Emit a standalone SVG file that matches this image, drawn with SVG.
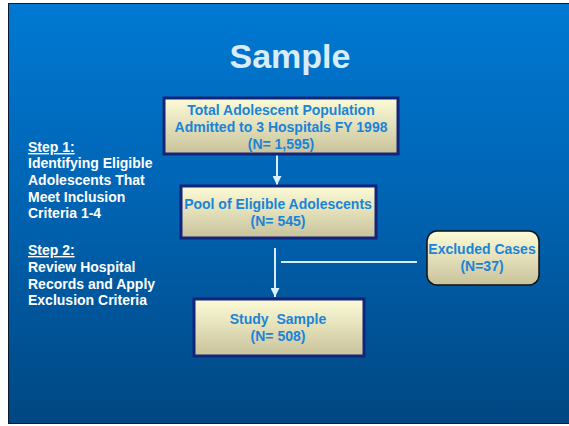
<svg xmlns="http://www.w3.org/2000/svg" width="569" height="426" viewBox="0 0 569 426">
<defs>
<linearGradient id="bg" x1="0" y1="0" x2="0" y2="1">
<stop offset="0" stop-color="#0079d3"/>
<stop offset="0.5" stop-color="#0062b0"/>
<stop offset="1" stop-color="#004782"/>
</linearGradient>
<linearGradient id="cream" x1="0" y1="0" x2="0" y2="1">
<stop offset="0" stop-color="#fdfcd8"/>
<stop offset="1" stop-color="#c8c29a"/>
</linearGradient>
<marker id="ah" viewBox="0 0 10 10" refX="10" refY="5" markerWidth="4.5" markerHeight="4.5" orient="auto" markerUnits="strokeWidth">
<path d="M0,0 L10,5 L0,10 Z" fill="#dcefff"/>
</marker>
<style>
.box{fill:url(#cream);stroke:#12257a;stroke-width:3}
.rbox{fill:url(#cream);stroke:#111;stroke-width:1.5}
.bt{font-family:"Liberation Sans",Arial,sans-serif;font-weight:bold;font-size:14px;fill:#1a84d8;text-anchor:middle}
.lt{font-family:"Liberation Sans",Arial,sans-serif;font-weight:bold;font-size:14px;fill:#ffffff}
.conn{stroke:#d8ecfb;stroke-width:2;fill:none}
</style>
</defs>
<rect x="0" y="0" width="569" height="426" fill="#ffffff"/>
<rect x="8.5" y="3.5" width="562" height="420" fill="url(#bg)" stroke="#0a1a30" stroke-width="1"/>
<text x="290" y="68" font-family="Liberation Sans,Arial,sans-serif" font-weight="bold" font-size="34" fill="#d8ecfa" text-anchor="middle">Sample</text>
<g id="steps">
<text class="lt" x="28" y="152" text-decoration="underline">Step 1:</text>
<text class="lt" x="28" y="168">Identifying Eligible</text>
<text class="lt" x="28" y="185">Adolescents That</text>
<text class="lt" x="28" y="202">Meet Inclusion</text>
<text class="lt" x="28" y="218">Criteria 1-4</text>
<text class="lt" x="28" y="255" text-decoration="underline">Step 2:</text>
<text class="lt" x="28" y="272">Review Hospital</text>
<text class="lt" x="28" y="289">Records and Apply</text>
<text class="lt" x="28" y="305">Exclusion Criteria</text>
</g>
<g id="connectors">
<line class="conn" x1="277" y1="155" x2="277" y2="185" marker-end="url(#ah)"/>
<line class="conn" x1="275" y1="248" x2="275" y2="297" marker-end="url(#ah)"/>
<line class="conn" x1="281" y1="262" x2="417" y2="262"/>
</g>
<g id="total">
<rect class="box" x="164" y="98" width="234" height="56"/>
<text class="bt" x="281" y="115">Total Adolescent Population</text>
<text class="bt" x="281" y="132">Admitted to 3 Hospitals FY 1998</text>
<text class="bt" x="281" y="149">(N= 1,595)</text>
</g>
<g id="pool">
<rect class="box" x="181" y="186" width="195" height="52"/>
<text class="bt" x="278" y="209">Pool of Eligible Adolescents</text>
<text class="bt" x="278" y="226">(N= 545)</text>
</g>
<g id="excluded">
<rect class="rbox" x="427" y="231" width="112" height="54" rx="10"/>
<text class="bt" x="482" y="254">Excluded Cases</text>
<text class="bt" x="482" y="271">(N=37)</text>
</g>
<g id="study">
<rect class="box" x="194" y="299" width="170" height="57"/>
<text class="bt" x="278" y="324">Study&#160; Sample</text>
<text class="bt" x="278" y="341">(N= 508)</text>
</g>
</svg>
